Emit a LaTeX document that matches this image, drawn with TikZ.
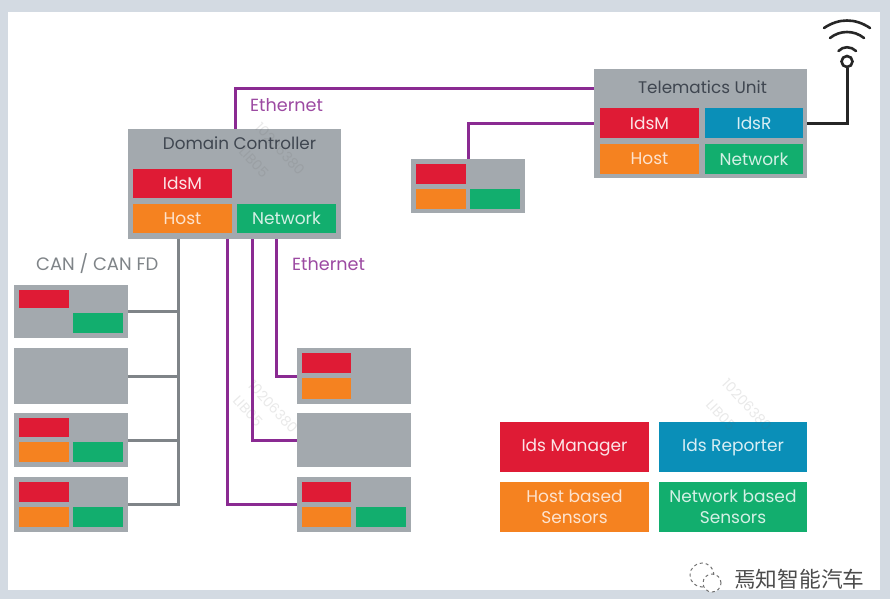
\documentclass[tikz,border=0pt]{standalone}
\usepackage{fontspec}
\setmainfont{Poppins}
\newfontfamily\cjkfont{Noto Sans CJK SC}
\usetikzlibrary{calc}
\definecolor{pagebg}{HTML}{D3DAE2}
\definecolor{unitgray}{HTML}{A3A9AE}
\definecolor{idsred}{HTML}{DF1B35}
\definecolor{idsblue}{HTML}{0A8FB8}
\definecolor{idsorange}{HTML}{F58220}
\definecolor{idsgreen}{HTML}{12AE6E}
\definecolor{ethpurple}{HTML}{8A2A92}
\definecolor{canwire}{HTML}{7F8488}
\definecolor{titletext}{HTML}{3F4650}
\tikzset{
  panel/.style={inner sep=0pt,outer sep=0pt,draw=none,align=center},
  unit/.style={panel,fill=unitgray},
  redbox/.style={panel,fill=idsred,text=white!88!idsred},
  bluebox/.style={panel,fill=idsblue,text=white!85!idsblue},
  orangebox/.style={panel,fill=idsorange,text=white!78!idsorange},
  greenbox/.style={panel,fill=idsgreen,text=white!82!idsgreen},
  title/.style={text=titletext,font=\fontsize{16.8}{20}\selectfont,inner sep=0pt},
  ethlabel/.style={text=ethpurple!85!white,font=\fontsize{17.6}{20}\selectfont,inner sep=0pt},
  canlabel/.style={text=canwire,font=\fontsize{18}{20}\selectfont,inner sep=0pt},
  eth/.style={draw=ethpurple,line width=3pt,line join=miter},
  can/.style={draw=canwire,line width=3pt,line join=miter},
  radio/.style={draw=black!85,line width=2.6pt,line cap=round},
  wm/.style={text=black!60,text opacity=.14,font=\fontsize{14}{16}\selectfont,rotate=-47,inner sep=0pt}
}
% \bx{style}{name}{x1}{y1}{x2}{y2}{text}
\newcommand{\bx}[7]{%
  \pgfmathsetmacro{\bxw}{#5-#3}\pgfmathsetmacro{\bxh}{#6-#4}%
  \pgfmathsetmacro{\bxx}{(#3+#5)/2}\pgfmathsetmacro{\bxy}{(#4+#6)/2}%
  \node[#1,minimum width=\bxw pt,minimum height=\bxh pt,font=\fontsize{17}{21}\selectfont] (#2) at (\bxx,\bxy) {#7};}
\begin{document}
\begin{tikzpicture}[x=1pt,y=-1pt]
\useasboundingbox (0,0) rectangle (890,599);
\fill[pagebg] (0,0) rectangle (890,599);
\fill[white] (8,12) rectangle (880,590);

% units
\bx{unit}{tu}{594}{69}{807}{178}{}
\bx{redbox}{tuM}{600}{108}{699}{138}{IdsM}
\bx{bluebox}{tuR}{705}{108}{803}{138}{IdsR}
\bx{orangebox}{tuH}{600}{144}{699}{174}{Host}
\bx{greenbox}{tuN}{705}{144}{803}{174}{Network}
\node[title] (tuT) at (702.5,87) {Telematics Unit};

\bx{unit}{dc}{128}{129}{341}{239}{}
\bx{redbox}{dcM}{133}{169}{232}{198}{IdsM}
\bx{orangebox}{dcH}{133}{204}{232}{233}{Host}
\bx{greenbox}{dcN}{237}{204}{336}{233}{Network}
\node[title] (dcT) at (239.5,143) {Domain Controller};

\bx{unit}{sm}{411}{159}{525}{213}{}
\bx{redbox}{smM}{416}{164}{466}{184}{}
\bx{orangebox}{smH}{416}{189}{466}{209}{}
\bx{greenbox}{smN}{470}{189}{520}{209}{}

\bx{unit}{la}{14}{285}{128}{338}{}
\bx{redbox}{laM}{19}{290}{69}{308}{}
\bx{greenbox}{laN}{73}{313}{123}{333}{}
\bx{unit}{lb}{14}{348}{128}{404}{}
\bx{unit}{lc}{14}{413}{128}{467}{}
\bx{redbox}{lcM}{19}{418}{69}{437}{}
\bx{orangebox}{lcH}{19}{442}{69}{462}{}
\bx{greenbox}{lcN}{73}{442}{123}{462}{}
\bx{unit}{ld}{14}{477}{128}{532}{}
\bx{redbox}{ldM}{19}{482}{69}{502}{}
\bx{orangebox}{ldH}{19}{507}{69}{527}{}
\bx{greenbox}{ldN}{73}{507}{123}{527}{}

\bx{unit}{ra}{297}{348}{411}{404}{}
\bx{redbox}{raM}{302}{353}{351}{373}{}
\bx{orangebox}{raH}{302}{378}{351}{399}{}
\bx{unit}{rb}{297}{413}{411}{467}{}
\bx{unit}{rc}{297}{477}{411}{532}{}
\bx{redbox}{rcM}{302}{482}{351}{502}{}
\bx{orangebox}{rcH}{302}{507}{351}{527}{}
\bx{greenbox}{rcN}{356}{507}{406}{527}{}

% legend
\bx{redbox}{lgM}{500}{422}{649}{472}{\raisebox{-1.5pt}{Ids Manager}}
\bx{bluebox}{lgR}{659}{422}{807}{472}{\raisebox{-1.5pt}{Ids Reporter}}
\bx{orangebox}{lgH}{500}{482}{649}{532}{Host based\\Sensors}
\bx{greenbox}{lgN}{659}{482}{807}{532}{Network based\\Sensors}

% connector waypoints
\coordinate (bus) at (178,504.5);
\coordinate (e0) at (235,89);
\coordinate (e1) at (227,504.5);
\coordinate (e2) at (252,440);
\coordinate (e3) at (276,376);
\coordinate (s0) at (468,124);

% CAN bus
\draw[can] (la.east) -- (la.east -| bus);
\draw[can] (lb.east) -- (lb.east -| bus);
\draw[can] (lc.east) -- (lc.east -| bus);
\draw[can] (dc.south -| bus) |- (ld.east);

% Ethernet
\draw[eth] (dc.north -| e0) -- (e0) -- (e0 -| tu.west);
\draw[eth] (sm.north -| s0) |- (tu.west);
\draw[eth] (dc.south -| e1) |- (rc.west);
\draw[eth] (dc.south -| e2) |- (rb.west);
\draw[eth] (dc.south -| e3) |- (ra.west);

% antenna
\node[circle,draw=black!85,line width=2.6pt,fill=white,minimum size=11pt,inner sep=0pt] (ant) at (847,61.5) {};
\draw[draw=black!85,line width=3pt] (tu.east |- tuR) -| (ant.south);
\coordinate (o1) at (824,28); \coordinate (o2) at (870,28);
\coordinate (m1) at (830,38); \coordinate (m2) at (864,38);
\coordinate (i1) at (838.5,51); \coordinate (i2) at (856,51);
\draw[radio] (o1) .. controls (839,18) and (855,18) .. (o2);
\draw[radio] (m1) .. controls (840,30) and (854,30) .. (m2);
\draw[radio] (i1) .. controls (843,46) and (851,46) .. (i2);

% labels
\node[ethlabel,anchor=west] (lE1) at (250,105) {Ethernet};
\node[ethlabel,anchor=west] (lE2) at (292,264) {Ethernet};
\node[canlabel,anchor=west] (lC) at (36,264) {CAN / CAN FD};

% watermarks
\node[wm] (wm1a) at (280,149) {10206380};
\node[wm] (wm1b) at (254,162) {LIB05};
\node[wm] (wm2a) at (273,407) {10206380};
\node[wm] (wm2b) at (248,411) {LIB05};
\node[wm] (wm3a) at (747,405) {10206380};
\node[wm] (wm3b) at (721,415) {LIB05};

% WeChat-style mark and account name
\node[draw=black!55,dashed,line width=1pt,circle,minimum size=24pt,inner sep=0pt] (wc1) at (702,575) {};
\node[draw=black!55,dashed,line width=1pt,circle,minimum size=18pt,fill=white,inner sep=0pt] (wc2) at (712,583) {};
\node[inner sep=0pt,text=black!70,anchor=west,font=\cjkfont\fontsize{21.7}{24}\selectfont] (acct) at (734,579) {焉知智能汽车};
\end{tikzpicture}
\end{document}
